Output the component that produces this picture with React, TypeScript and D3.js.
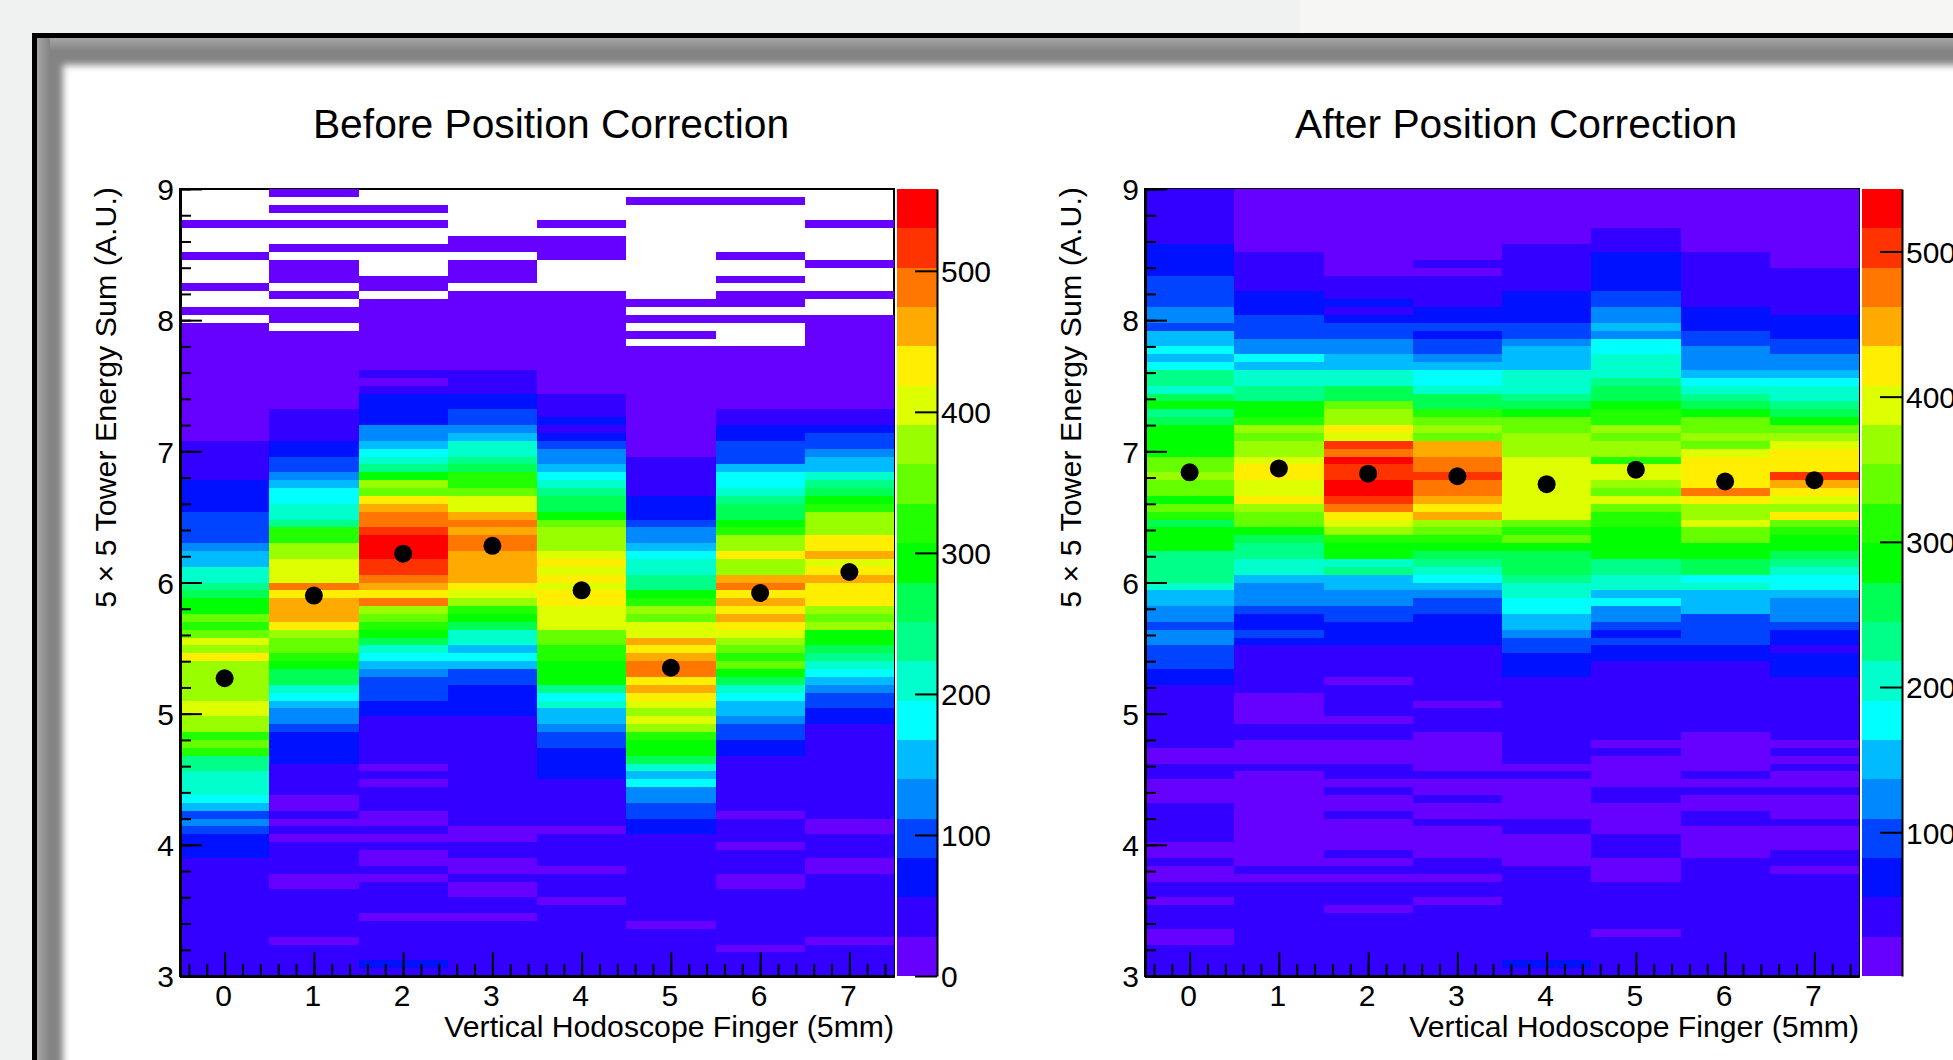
import { useEffect, useRef } from "react";
import * as d3 from "d3";

// bin contents per hodoscope finger, 100 energy bins listed from 9.0 down to 3.0, 0 = empty bin
const beforeFinger0 = [
  0, 0, 0, 0, 15, 0, 0, 0, 15, 0,
  0, 0, 15, 0, 0, 15, 0, 15, 15, 15,
  15, 15, 15, 15, 15, 15, 15, 15, 15, 15,
  15, 15, 40, 40, 40, 40, 40, 70, 70, 70,
  70, 95, 95, 95, 95, 125, 150, 150, 205, 205,
  230, 260, 290, 290, 345, 315, 345, 400, 370, 425,
  370, 370, 370, 370, 370, 400, 400, 370, 370, 315,
  345, 315, 230, 230, 205, 205, 205, 180, 150, 95,
  125, 95, 70, 70, 70, 40, 40, 40, 40, 40,
  40, 40, 40, 40, 40, 40, 40, 40, 40, 40,
];
const beforeFinger1 = [
  15, 0, 15, 0, 15, 0, 0, 15, 0, 15,
  15, 15, 0, 15, 0, 15, 15, 0, 15, 15,
  15, 15, 15, 15, 15, 15, 15, 15, 40, 40,
  40, 40, 70, 70, 95, 95, 125, 150, 180, 180,
  205, 205, 230, 315, 315, 370, 370, 400, 400, 400,
  480, 425, 450, 450, 450, 425, 370, 345, 345, 315,
  290, 260, 260, 205, 180, 150, 125, 125, 95, 70,
  70, 70, 70, 40, 40, 40, 40, 15, 15, 40,
  15, 40, 15, 40, 40, 40, 40, 15, 15, 40,
  40, 40, 40, 40, 40, 15, 40, 40, 40, 40,
];
const beforeFinger2 = [
  0, 0, 15, 0, 15, 0, 0, 15, 0, 0,
  0, 15, 15, 0, 15, 15, 15, 15, 15, 15,
  15, 15, 15, 40, 15, 40, 70, 70, 70, 70,
  125, 125, 150, 180, 205, 230, 290, 370, 345, 425,
  450, 480, 480, 510, 535, 535, 535, 510, 510, 480,
  450, 425, 480, 370, 345, 315, 290, 260, 205, 180,
  150, 125, 95, 95, 95, 70, 70, 40, 40, 40,
  40, 40, 40, 15, 40, 15, 40, 40, 40, 15,
  15, 40, 15, 40, 15, 15, 40, 15, 40, 40,
  40, 40, 15, 40, 40, 40, 40, 40, 70, 40,
];
const beforeFinger3 = [
  0, 0, 0, 0, 0, 0, 15, 15, 0, 15,
  15, 15, 0, 15, 15, 15, 15, 15, 15, 15,
  15, 15, 15, 40, 40, 40, 70, 70, 95, 95,
  125, 150, 205, 205, 230, 260, 315, 315, 345, 400,
  400, 450, 480, 450, 480, 480, 450, 450, 450, 450,
  425, 400, 370, 315, 290, 260, 205, 205, 150, 180,
  150, 95, 95, 70, 70, 70, 70, 40, 40, 40,
  40, 40, 40, 40, 40, 40, 40, 40, 40, 40,
  40, 15, 15, 40, 40, 15, 15, 40, 15, 15,
  40, 40, 15, 40, 40, 40, 40, 40, 40, 40,
];
const beforeFinger4 = [
  0, 0, 0, 0, 15, 0, 15, 15, 15, 0,
  0, 0, 0, 15, 15, 15, 15, 15, 15, 15,
  15, 15, 15, 15, 15, 15, 40, 40, 40, 70,
  40, 70, 95, 125, 125, 150, 180, 205, 230, 260,
  260, 290, 345, 370, 370, 370, 400, 425, 400, 425,
  400, 425, 425, 400, 400, 400, 345, 345, 315, 315,
  290, 290, 290, 230, 180, 205, 150, 150, 125, 95,
  95, 70, 70, 70, 70, 40, 40, 40, 40, 40,
  40, 15, 40, 40, 40, 40, 15, 40, 40, 40,
  15, 40, 40, 40, 40, 40, 40, 40, 40, 40,
];
const beforeFinger5 = [
  0, 15, 0, 0, 0, 0, 0, 0, 0, 0,
  0, 0, 0, 0, 15, 0, 15, 0, 15, 0,
  15, 15, 15, 15, 15, 15, 15, 15, 15, 15,
  15, 15, 15, 15, 40, 40, 40, 40, 40, 70,
  70, 70, 95, 125, 125, 150, 180, 205, 205, 230,
  230, 290, 315, 370, 345, 400, 400, 450, 425, 450,
  480, 480, 425, 450, 425, 400, 370, 400, 370, 315,
  290, 290, 260, 205, 150, 180, 125, 125, 95, 95,
  70, 70, 40, 40, 40, 40, 40, 40, 40, 40,
  40, 40, 40, 15, 40, 40, 40, 40, 40, 40,
];
const beforeFinger6 = [
  0, 15, 0, 0, 0, 0, 0, 0, 15, 0,
  0, 15, 0, 15, 15, 0, 15, 0, 0, 0,
  15, 15, 15, 15, 15, 15, 15, 15, 40, 40,
  70, 70, 95, 95, 95, 150, 180, 180, 205, 230,
  260, 260, 290, 315, 370, 370, 425, 370, 370, 450,
  480, 425, 450, 425, 450, 425, 400, 370, 345, 315,
  345, 290, 260, 205, 180, 150, 150, 125, 95, 95,
  70, 70, 40, 40, 40, 40, 40, 40, 40, 15,
  40, 40, 40, 15, 40, 40, 40, 15, 15, 40,
  40, 40, 40, 40, 40, 40, 15, 40, 40, 40,
];
const beforeFinger7 = [
  0, 0, 0, 0, 15, 0, 0, 0, 0, 15,
  0, 0, 0, 15, 0, 0, 15, 15, 15, 15,
  15, 15, 15, 15, 15, 15, 15, 15, 40, 40,
  70, 95, 95, 125, 150, 150, 205, 230, 260, 290,
  315, 370, 370, 370, 425, 425, 450, 400, 425, 450,
  425, 425, 425, 370, 345, 370, 290, 290, 260, 230,
  205, 180, 150, 125, 95, 95, 70, 70, 40, 40,
  40, 40, 40, 40, 40, 40, 40, 40, 40, 40,
  15, 15, 40, 40, 40, 15, 15, 40, 40, 40,
  40, 40, 40, 40, 40, 15, 40, 40, 40, 40,
];

const afterFinger0 = [
  40, 40, 40, 40, 40, 40, 40, 70, 70, 70,
  70, 95, 95, 95, 95, 125, 125, 95, 150, 150,
  180, 150, 180, 230, 230, 205, 260, 290, 230, 260,
  290, 290, 290, 290, 345, 345, 370, 345, 345, 290,
  345, 315, 260, 290, 290, 290, 230, 230, 230, 230,
  205, 150, 150, 125, 125, 95, 125, 125, 95, 95,
  95, 70, 70, 40, 40, 40, 40, 40, 40, 40,
  40, 15, 15, 40, 40, 15, 15, 15, 40, 40,
  40, 40, 40, 15, 15, 40, 15, 15, 40, 40,
  15, 40, 40, 40, 15, 15, 40, 40, 40, 40,
];
const afterFinger1 = [
  15, 15, 15, 15, 15, 15, 15, 15, 40, 40,
  40, 40, 40, 70, 70, 70, 95, 95, 95, 125,
  125, 180, 150, 205, 205, 230, 230, 290, 290, 315,
  370, 345, 370, 370, 400, 425, 425, 400, 400, 425,
  370, 345, 345, 290, 260, 230, 230, 205, 205, 150,
  125, 125, 125, 95, 70, 70, 95, 70, 40, 40,
  40, 40, 40, 40, 15, 15, 15, 15, 40, 40,
  15, 15, 15, 40, 15, 15, 15, 15, 15, 15,
  15, 15, 15, 15, 15, 15, 40, 15, 40, 40,
  40, 40, 40, 40, 40, 40, 40, 40, 40, 40,
];
const afterFinger2 = [
  15, 15, 15, 15, 15, 15, 15, 15, 15, 15,
  15, 40, 40, 40, 70, 40, 70, 95, 95, 125,
  125, 150, 150, 205, 205, 260, 260, 345, 370, 370,
  425, 400, 510, 480, 535, 510, 510, 535, 535, 510,
  480, 425, 400, 370, 315, 290, 290, 205, 230, 150,
  150, 125, 125, 95, 95, 70, 70, 70, 40, 40,
  40, 40, 15, 40, 40, 40, 40, 15, 40, 40,
  15, 15, 15, 40, 40, 15, 40, 15, 15, 40,
  15, 15, 15, 15, 40, 15, 40, 15, 40, 40,
  40, 15, 40, 40, 40, 40, 40, 40, 40, 40,
];
const afterFinger3 = [
  15, 15, 15, 15, 15, 15, 15, 15, 15, 40,
  15, 40, 40, 40, 40, 70, 70, 95, 70, 95,
  95, 125, 150, 180, 180, 205, 260, 260, 315, 345,
  370, 345, 450, 450, 480, 480, 510, 480, 480, 450,
  425, 450, 370, 345, 315, 290, 260, 230, 205, 180,
  150, 125, 95, 95, 70, 70, 70, 70, 40, 40,
  40, 40, 40, 40, 40, 15, 40, 40, 40, 15,
  15, 15, 15, 15, 40, 15, 15, 40, 15, 15,
  40, 15, 15, 15, 15, 40, 40, 15, 40, 40,
  15, 40, 40, 40, 40, 40, 40, 40, 40, 40,
];
const afterFinger4 = [
  15, 15, 15, 15, 15, 15, 15, 40, 40, 40,
  40, 40, 40, 70, 70, 70, 70, 95, 95, 125,
  150, 150, 150, 205, 205, 205, 230, 260, 290, 345,
  345, 370, 370, 370, 400, 400, 400, 400, 400, 400,
  400, 400, 345, 315, 345, 290, 260, 260, 260, 230,
  205, 205, 180, 180, 150, 150, 125, 95, 95, 70,
  70, 70, 40, 40, 40, 40, 40, 40, 40, 40,
  40, 40, 40, 15, 40, 15, 15, 15, 15, 15,
  40, 40, 15, 15, 15, 15, 40, 40, 40, 40,
  40, 40, 40, 40, 40, 40, 40, 40, 70, 40,
];
const afterFinger5 = [
  15, 15, 15, 15, 15, 40, 40, 40, 70, 70,
  70, 70, 70, 95, 95, 125, 125, 150, 125, 180,
  180, 205, 205, 205, 230, 260, 260, 290, 315, 315,
  370, 345, 370, 370, 315, 400, 400, 370, 345, 400,
  345, 315, 315, 290, 290, 290, 290, 230, 230, 205,
  205, 150, 180, 125, 125, 95, 70, 95, 70, 70,
  40, 40, 40, 40, 40, 40, 40, 40, 40, 40,
  15, 40, 15, 15, 15, 15, 40, 40, 15, 15,
  15, 15, 40, 40, 40, 15, 15, 15, 40, 40,
  40, 40, 40, 40, 15, 40, 40, 40, 40, 40,
];
const afterFinger6 = [
  15, 15, 15, 15, 15, 15, 15, 15, 40, 40,
  40, 40, 40, 40, 40, 70, 70, 70, 95, 95,
  125, 125, 125, 150, 180, 205, 230, 260, 290, 345,
  345, 370, 345, 400, 425, 425, 425, 425, 480, 425,
  370, 370, 400, 345, 345, 290, 290, 260, 260, 180,
  205, 150, 150, 150, 95, 95, 95, 95, 70, 70,
  40, 40, 40, 40, 40, 40, 40, 40, 40, 15,
  15, 15, 15, 15, 40, 15, 40, 15, 15, 40,
  40, 15, 15, 15, 15, 40, 40, 40, 40, 40,
  40, 40, 40, 40, 40, 40, 40, 40, 40, 40,
];
const afterFinger7 = [
  15, 15, 15, 15, 15, 15, 15, 15, 15, 15,
  40, 40, 40, 40, 40, 40, 70, 70, 70, 95,
  95, 125, 125, 150, 180, 205, 205, 230, 260, 290,
  345, 370, 400, 425, 425, 425, 510, 450, 425, 400,
  370, 425, 345, 315, 290, 290, 260, 230, 205, 180,
  180, 150, 125, 125, 125, 95, 70, 70, 40, 70,
  70, 70, 40, 40, 40, 40, 40, 40, 40, 40,
  15, 40, 15, 40, 15, 15, 40, 15, 15, 15,
  40, 15, 15, 15, 40, 40, 15, 40, 40, 40,
  40, 40, 40, 40, 40, 40, 40, 40, 40, 40,
];

const fingers = [0, 1, 2, 3, 4, 5, 6, 7];
const beforeMeans = [5.27, 5.9, 6.22, 6.28, 5.94, 5.35, 5.92, 6.08];
const afterMeans = [6.84, 6.87, 6.83, 6.81, 6.75, 6.86, 6.77, 6.78];
const energyTicks = [3, 4, 5, 6, 7, 8, 9];
const zTicks = [0, 100, 200, 300, 400, 500];

// bottom to top
const palette = [
  "#6600ff", "#3300ff", "#0011ff", "#0044ff", "#0088ff",
  "#00bbff", "#00ffff", "#00ffcc", "#00ff88", "#00ff55",
  "#00ff00", "#22ff00", "#66ff00", "#99ff00", "#ddff00",
  "#ffee00", "#ffaa00", "#ff7700", "#ff3300", "#ff0000",
];

const energyMin = 3;
const energyMax = 9;
const binWidth = (energyMax - energyMin) / 100;
const plotTop = 189;
const plotBottom = 976;
const fontFamily = "'Liberation Sans', Arial, sans-serif";

const panels = [
  {
    title: "Before Position Correction",
    columns: [beforeFinger0, beforeFinger1, beforeFinger2, beforeFinger3, beforeFinger4, beforeFinger5, beforeFinger6, beforeFinger7],
    means: beforeMeans,
    left: 180,
    right: 894,
    zDomain: [0, 558],
  },
  {
    title: "After Position Correction",
    columns: [afterFinger0, afterFinger1, afterFinger2, afterFinger3, afterFinger4, afterFinger5, afterFinger6, afterFinger7],
    means: afterMeans,
    left: 1145,
    right: 1859,
    zDomain: [1, 543],
  },
];

function drawPanel(svg, panel) {
  const g = svg.append("g");
  const x = d3.scaleLinear().domain([-0.5, 7.5]).range([panel.left, panel.right]);
  const y = d3.scaleLinear().domain([energyMin, energyMax]).range([plotBottom, plotTop]);
  const color = d3.scaleQuantize().domain(panel.zDomain).range(palette);

  // frame goes under the histogram, it only shows through the empty bins
  g.append("rect")
    .attr("x", panel.left)
    .attr("y", plotTop)
    .attr("width", panel.right - panel.left)
    .attr("height", plotBottom - plotTop)
    .attr("fill", "#fff")
    .attr("stroke", "#000")
    .attr("stroke-width", 2);

  panel.columns.forEach((bins, i) => {
    const col = g.append("g");
    col.selectAll("rect")
      .data(bins.map((v, r) => ({ v, r })).filter((d) => d.v > 0))
      .join("rect")
      .attr("x", x(fingers[i] - 0.5))
      .attr("width", x(fingers[i] + 0.5) - x(fingers[i] - 0.5))
      .attr("y", (d) => y(energyMax - d.r * binWidth))
      .attr("height", (d) => y(energyMax - (d.r + 1) * binWidth) - y(energyMax - d.r * binWidth))
      .attr("fill", (d) => color(d.v))
      .attr("shape-rendering", "crispEdges");
  });

  // y axis
  const yMinor = d3.axisLeft(y)
    .tickValues(d3.range(energyMin, energyMax + 0.01, 0.2))
    .tickSizeInner(-11)
    .tickSizeOuter(0)
    .tickFormat(() => "");
  const yMajor = d3.axisLeft(y)
    .tickValues(energyTicks)
    .tickSizeInner(-22)
    .tickSizeOuter(0)
    .tickFormat(d3.format("d"));
  g.append("g").attr("transform", `translate(${panel.left},0)`).call(yMinor);
  const yAxis = g.append("g").attr("transform", `translate(${panel.left},0)`).call(yMajor);
  yAxis.selectAll("text")
    .attr("x", -6)
    .attr("dy", "0.36em")
    .attr("font-size", 30)
    .attr("font-family", fontFamily)
    .attr("fill", "#000");

  // x axis
  const xMinor = d3.axisBottom(x)
    .tickValues(d3.range(-0.4, 7.5, 0.2))
    .tickSizeInner(-12)
    .tickSizeOuter(0)
    .tickFormat(() => "");
  const xMajor = d3.axisBottom(x)
    .tickValues(fingers)
    .tickSizeInner(-24)
    .tickSizeOuter(0)
    .tickFormat(d3.format("d"));
  g.append("g").attr("transform", `translate(0,${plotBottom})`).call(xMinor);
  const xAxis = g.append("g").attr("transform", `translate(0,${plotBottom})`).call(xMajor);
  xAxis.selectAll("text")
    .attr("x", -1.5)
    .attr("y", 9)
    .attr("dy", "0.71em")
    .attr("font-size", 30)
    .attr("font-family", fontFamily)
    .attr("fill", "#000");

  g.selectAll(".tick line").attr("stroke", "#000").attr("stroke-width", 2);
  g.selectAll(".domain").attr("stroke", "#000").attr("stroke-width", 3).attr("fill", "none");

  // profile means
  g.selectAll("circle.mean")
    .data(panel.means)
    .join("circle")
    .attr("class", "mean")
    .attr("cx", (d, i) => x(fingers[i]))
    .attr("cy", (d) => y(d))
    .attr("r", 9)
    .attr("fill", "#000");

  // color bar
  const barLeft = panel.right + 3;
  const barRight = panel.right + 43;
  const z = d3.scaleLinear().domain(panel.zDomain).range([plotBottom, plotTop]);
  const levels = d3.range(palette.length + 1).map((i) => panel.zDomain[0] + ((panel.zDomain[1] - panel.zDomain[0]) * i) / palette.length);
  g.append("g")
    .selectAll("rect")
    .data(palette)
    .join("rect")
    .attr("x", barLeft)
    .attr("width", barRight - barLeft)
    .attr("y", (d, i) => z(levels[i + 1]))
    .attr("height", (d, i) => z(levels[i]) - z(levels[i + 1]))
    .attr("fill", (d) => d)
    .attr("shape-rendering", "crispEdges");

  const zAxis = d3.axisRight(z)
    .tickValues(zTicks.filter((t) => t >= panel.zDomain[0]))
    .tickSizeInner(-22)
    .tickSizeOuter(0)
    .tickFormat(d3.format("d"));
  const zg = g.append("g").attr("transform", `translate(${barRight},0)`).call(zAxis);
  zg.selectAll(".tick line").attr("stroke", "#000").attr("stroke-width", 2);
  zg.select(".domain").attr("stroke", "#000").attr("stroke-width", 2);
  zg.selectAll("text")
    .attr("x", 4)
    .attr("dy", "0.36em")
    .attr("font-size", 30)
    .attr("font-family", fontFamily)
    .attr("fill", "#000");

  // titles
  g.append("text")
    .attr("x", (panel.left + panel.right) / 2 + 14)
    .attr("y", 138)
    .attr("text-anchor", "middle")
    .attr("font-size", 40.8)
    .attr("font-family", fontFamily)
    .attr("fill", "#000")
    .text(panel.title);

  g.append("text")
    .attr("x", panel.right)
    .attr("y", 1037)
    .attr("text-anchor", "end")
    .attr("font-size", 30.2)
    .attr("font-family", fontFamily)
    .attr("fill", "#000")
    .text("Vertical Hodoscope Finger (5mm)");

  g.append("text")
    .attr("transform", `translate(${panel.left - 64},${plotTop - 2}) rotate(-90)`)
    .attr("text-anchor", "end")
    .attr("font-size", 30.4)
    .attr("font-family", fontFamily)
    .attr("fill", "#000")
    .text("5 × 5 Tower Energy Sum (A.U.)");
}

function drawBackdrop(svg) {
  const defs = svg.append("defs");
  defs.append("filter")
    .attr("id", "soft")
    .attr("x", "-5%")
    .attr("y", "-5%")
    .attr("width", "110%")
    .attr("height", "110%")
    .append("feGaussianBlur")
    .attr("stdDeviation", 3.5);

  const stripes = [
    { id: "bevelTop", x2: "0%", y2: "100%" },
    { id: "bevelLeft", x2: "100%", y2: "0%" },
  ];
  stripes.forEach((s) => {
    const grad = defs.append("linearGradient")
      .attr("id", s.id)
      .attr("x1", "0%")
      .attr("y1", "0%")
      .attr("x2", s.x2)
      .attr("y2", s.y2);
    grad.append("stop").attr("offset", "0%").attr("stop-color", "#a6a6a6");
    grad.append("stop").attr("offset", "100%").attr("stop-color", "#838383");
  });

  svg.append("rect").attr("width", 1953).attr("height", 1060).attr("fill", "#f0f1f1");
  svg.append("rect").attr("x", 1300).attr("width", 653).attr("height", 33).attr("fill", "#f6f6f5");
  svg.append("rect").attr("x", 32).attr("y", 33).attr("width", 1960).attr("height", 1060).attr("fill", "#000");
  svg.append("rect").attr("x", 37).attr("y", 38).attr("width", 1960).attr("height", 1060).attr("fill", "#838383");
  svg.append("rect").attr("x", 37).attr("y", 38).attr("width", 1960).attr("height", 13).attr("fill", "url(#bevelTop)");
  svg.append("rect").attr("x", 37).attr("y", 38).attr("width", 13).attr("height", 1060).attr("fill", "url(#bevelLeft)");
  svg.append("rect")
    .attr("x", 63)
    .attr("y", 65)
    .attr("width", 1960)
    .attr("height", 1060)
    .attr("fill", "#fff")
    .attr("filter", "url(#soft)");
}

export default function App() {
  const ref = useRef(null);

  useEffect(() => {
    const svg = d3.select(ref.current);
    svg.selectAll("*").remove();
    drawBackdrop(svg);
    panels.forEach((p) => drawPanel(svg, p));
  }, []);

  return (
    <svg
      ref={ref}
      width={1953}
      height={1060}
      style={{ position: "fixed", left: 0, top: 0, display: "block" }}
    />
  );
}
